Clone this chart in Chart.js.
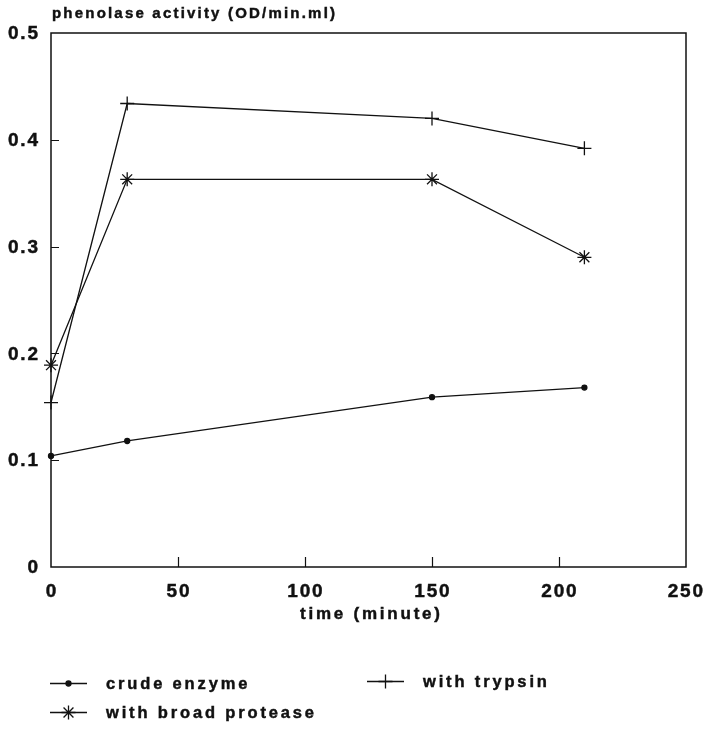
<!DOCTYPE html>
<html>
<head>
<meta charset="utf-8">
<script src="https://cdn.jsdelivr.net/npm/chart.js@4.4.0/dist/chart.umd.min.js"></script>
<style>
html,body{margin:0;padding:0;background:#fff;}
#wrap{width:706px;height:733px;position:relative;}
</style>
</head>
<body>
<div id="wrap"><canvas id="c" width="706" height="733"></canvas></div>
<script>
const timeMin = [0, 30, 150, 210];
const crudeEnzyme = [0.104, 0.118, 0.159, 0.168];
const withTrypsin = [0.154, 0.434, 0.420, 0.392];
const withBroadProtease = [0.189, 0.363, 0.363, 0.290];
const xTicks = [0, 50, 100, 150, 200, 250];
const yTicks = [0, 0.1, 0.2, 0.3, 0.4, 0.5];
const yTickLabels = ['0', '0.1', '0.2', '0.3', '0.4', '0.5'];
const seriesNames = ['crude enzyme', 'with trypsin', 'with broad protease'];
const yTitle = 'phenolase activity (OD/min.ml)';
const xTitle = 'time (minute)';

const INK = '#111';
const FONT = '"Liberation Sans", Arial, Helvetica, sans-serif';

function pts(ys){ return timeMin.map((t,i)=>({x:t,y:ys[i]})); }

const markerStyles = ['circle','cross','star'];
const markerRadius = [2.5, 7, 7];

function naturalWidth(ctx, text){
  let w = 0; for (const ch of text) w += ctx.measureText(ch).width; return w;
}
// draw text with letter spacing; if targetW given, spacing is chosen to reach that width
function spaced(ctx, text, x, y, align, spacing, targetW){
  ctx.textAlign = 'left';
  const ws = [];
  let w = 0;
  for (const ch of text){ const cw = ctx.measureText(ch).width; ws.push(cw); w += cw; }
  if (targetW) spacing = (targetW - w) / (text.length - 1);
  w += spacing * (text.length - 1);
  let sx = align === 'center' ? x - w/2 : align === 'right' ? x - w : x;
  let i = 0;
  ctx.lineWidth = 0.45; ctx.strokeStyle = INK;
  for (const ch of text){ ctx.fillText(ch, sx, y); if (ch !== ' ') ctx.strokeText(ch, sx, y); sx += ws[i++] + spacing; }
}

const frame = {
  id:'frame',
  afterDraw(chart){
    const ctx = chart.ctx, a = chart.chartArea;
    const xs = chart.scales.x, ys = chart.scales.y;
    ctx.save();
    ctx.strokeStyle = INK; ctx.lineWidth = 1.5;
    ctx.strokeRect(a.left, a.top, a.right-a.left, a.bottom-a.top);
    ctx.lineWidth = 1.2;
    ctx.beginPath();
    xTicks.slice(1,-1).forEach(v=>{
      const px = Math.round(xs.getPixelForValue(v))+0.5;
      ctx.moveTo(px, a.bottom); ctx.lineTo(px, a.bottom-10);
    });
    yTicks.slice(1,-1).forEach(v=>{
      const py = Math.round(ys.getPixelForValue(v))+0.5;
      ctx.moveTo(a.left, py); ctx.lineTo(a.left+8, py);
    });
    ctx.stroke();

    ctx.fillStyle = INK;
    ctx.textBaseline = 'middle';
    // tick labels
    ctx.font = 'bold 19px ' + FONT;
    yTicks.forEach((v,i)=>{
      spaced(ctx, yTickLabels[i], 38, ys.getPixelForValue(v)+1, 'right', 1.8);
    });
    xTicks.forEach((v,i)=>{
      const px = xs.getPixelForValue(v);
      if (i === xTicks.length-1) spaced(ctx, String(v), 703, 592, 'right', 1.8);
      else spaced(ctx, String(v), px, 592, 'center', 1.8);
    });
    // y title at top
    ctx.font = 'bold 15px ' + FONT;
    spaced(ctx, yTitle, 52, 14, 'left', 0, 283);
    // x title
    ctx.font = 'bold 17px ' + FONT;
    spaced(ctx, xTitle, 370, 614, 'center', 0, 140);

    // legend
    const items = [
      {x:50, y:683, tx:106},
      {x:367, y:681, tx:423},
      {x:50, y:712, tx:106}
    ];
    ctx.font = 'bold 16.5px ' + FONT;
    const legSpacing = (208 - naturalWidth(ctx, seriesNames[2])) / (seriesNames[2].length - 1);
    items.forEach((it,i)=>{
      ctx.strokeStyle = INK; ctx.lineWidth = 1.3;
      ctx.beginPath(); ctx.moveTo(it.x, it.y+0.5); ctx.lineTo(it.x+37, it.y+0.5); ctx.stroke();
      Chart.helpers.drawPoint(ctx, {pointStyle: markerStyles[i], radius: markerRadius[i], borderWidth: 1.3, rotation:0}, it.x+18.5, it.y+0.5);
      ctx.fillStyle = INK;
      spaced(ctx, seriesNames[i], it.tx, it.y+1, 'left', legSpacing);
    });
    ctx.restore();
  }
};

new Chart(document.getElementById('c'), {
  type: 'line',
  data: {
    datasets: [
      {label: seriesNames[0], data: pts(crudeEnzyme)},
      {label: seriesNames[1], data: pts(withTrypsin)},
      {label: seriesNames[2], data: pts(withBroadProtease)}
    ].map((d,i)=>Object.assign(d,{
      borderColor: INK, backgroundColor: INK, borderWidth: 1.3,
      pointStyle: markerStyles[i], pointRadius: markerRadius[i],
      pointBorderColor: INK, pointBackgroundColor: INK, pointBorderWidth: 1.3,
      tension: 0, fill: false, clip: false
    }))
  },
  options: {
    responsive: false, animation: false,
    layout: {padding: {left: 0, top: 33, right: 20, bottom: 0}},
    plugins: {legend: {display: false}, tooltip: {enabled: false}, title: {display: false}},
    scales: {
      x: {
        type: 'linear', min: 0, max: 250,
        afterBuildTicks(s){ s.ticks = xTicks.map(v=>({value:v})); },
        afterFit(s){ s.height = 166; },
        grid: {display: false, drawTicks: false},
        border: {display: false},
        ticks: {display: false}
      },
      y: {
        type: 'linear', min: 0, max: 0.5,
        afterBuildTicks(s){ s.ticks = yTicks.map(v=>({value:v})); },
        afterFit(s){ s.width = 51; },
        grid: {display: false, drawTicks: false},
        border: {display: false},
        ticks: {display: false}
      }
    }
  },
  plugins: [frame]
});
</script>
</body>
</html>
